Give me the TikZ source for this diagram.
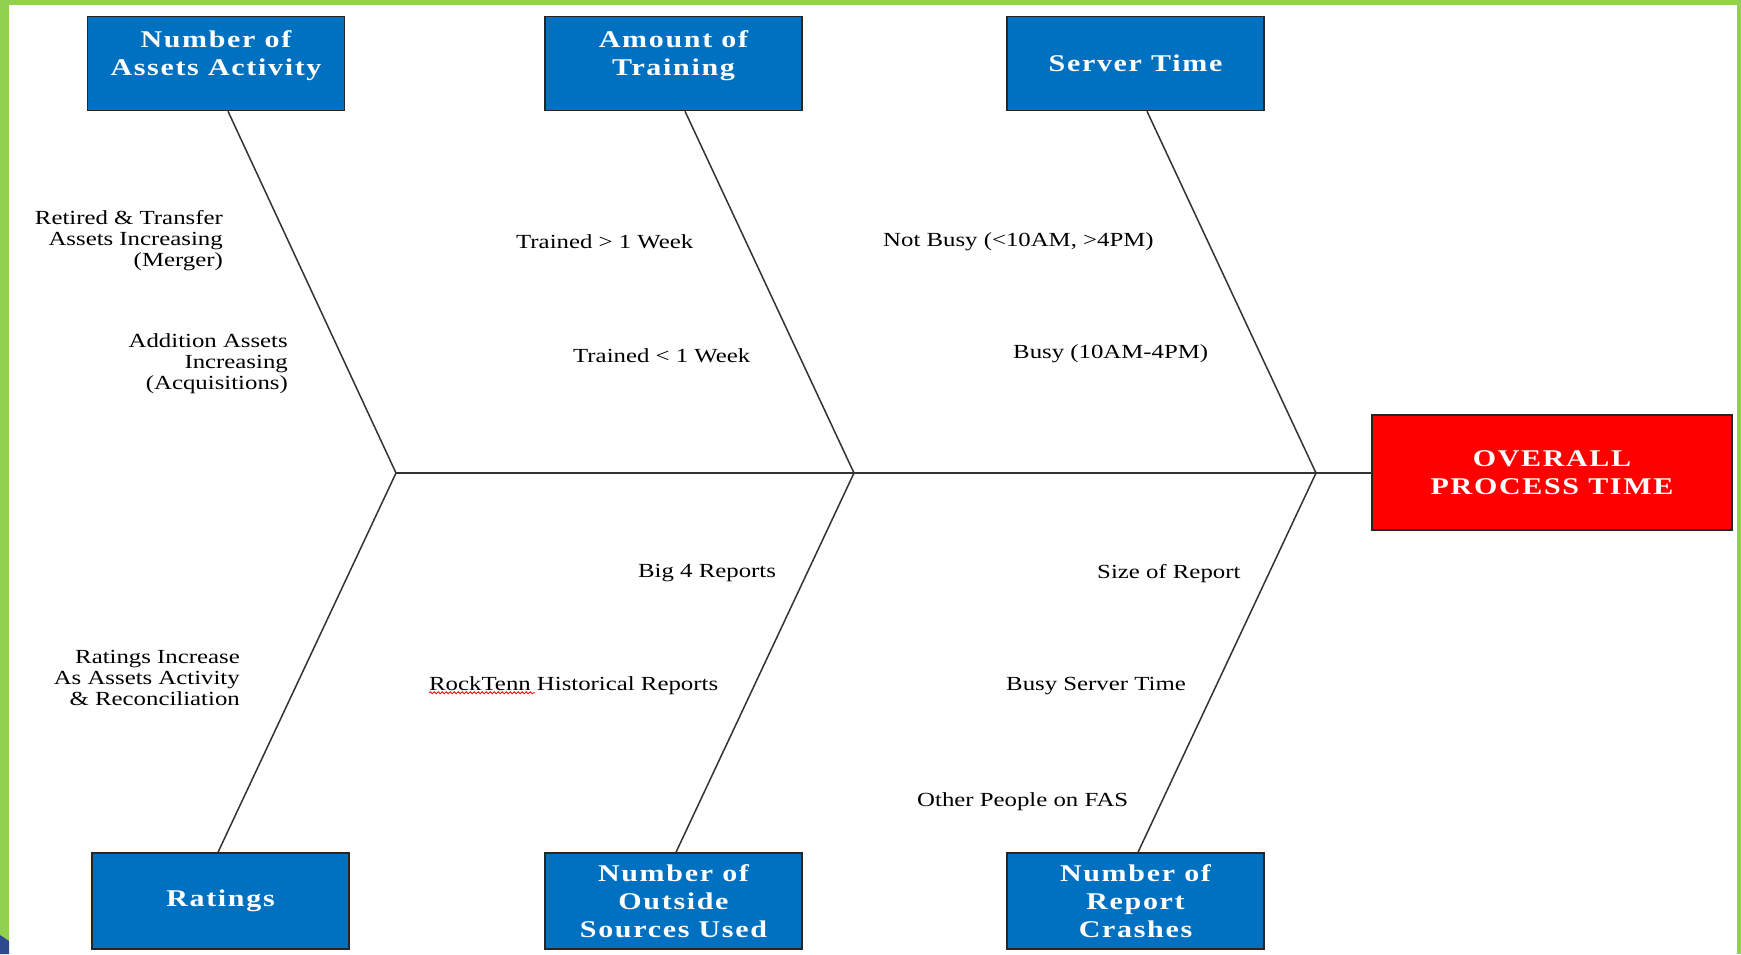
\documentclass[tikz,border=0pt]{standalone}
\usepackage{fontspec}
\setmainfont{Liberation Serif}[FakeStretch=1.24]
\newfontfamily\titlefont{Liberation Serif}[FakeStretch=1.25,LetterSpace=7]
\usetikzlibrary{decorations.pathmorphing}
\definecolor{frame}{HTML}{92D050}
\definecolor{boxblue}{HTML}{0070C0}
\definecolor{cornerblue}{HTML}{2E4A8F}
\definecolor{bone}{HTML}{333333}
\begin{document}
\begin{tikzpicture}[x=1pt,y=-1pt,
  cause/.style={draw=black!85,line width=1.5pt,fill=boxblue,text=white,
    minimum width=257pt,minimum height=94pt,align=center,inner sep=0pt,
    font=\titlefont\bfseries\fontsize{24}{28}\selectfont},
  effect/.style={cause,fill=red,minimum width=360pt,minimum height=115pt},
  boneline/.style={draw=bone,line width=1.5pt},
  lbl/.style={inner sep=0pt,anchor=west,font=\fontsize{20}{21}\selectfont},
  rlbl/.style={lbl,anchor=east,align=right}]
\useasboundingbox (0,0) rectangle (1741,954);
\fill[white] (0,0) rectangle (1741,954);
% slide frame
\fill[frame] (0,0) rectangle (9,954);
\fill[frame] (0,0) rectangle (1741,5);
\fill[frame] (1737,0) rectangle (1741,954);
\fill[cornerblue] (0,935) -- (9,941) -- (9,954) -- (0,954) -- cycle;

% category boxes (two-line titles sit a little above the middle)
\node[cause] (assets)   at (216,63.5)   {Number of\\Assets Activity\\[-7pt]\mbox{}};
\node[cause] (training) at (673.5,63.5) {Amount of\\Training\\[-7pt]\mbox{}};
\node[cause] (server)   at (1135.5,63.5){Server Time};
\node[cause,minimum height=96pt] (ratings) at (220.5,901) {Ratings};
\node[cause,minimum height=96pt] (sources) at (673.5,901) {Number of\\Outside\\Sources Used};
\node[cause,minimum height=96pt] (crashes) at (1135.5,901){Number of\\Report\\Crashes};
\node[effect] (overall) at (1552,472.5) {OVERALL\\PROCESS TIME};

% junctions on the spine
\coordinate (j1) at (396,473);
\coordinate (j2) at (854,473);
\coordinate (j3) at (1316,473);

% spine and bones
\draw[boneline] (j1) -- (overall.west |- j1);
\draw[boneline] ([xshift=12pt]assets.south) -- (j1);
\draw[boneline] ([xshift=11.5pt]training.south) -- (j2);
\draw[boneline] ([xshift=11.5pt]server.south) -- (j3);
\draw[boneline] ([xshift=-2.5pt]ratings.north) -- (j1);
\draw[boneline] ([xshift=2.5pt]sources.north) -- (j2);
\draw[boneline] ([xshift=2.5pt]crashes.north) -- (j3);

% causes
\node[rlbl] (merger) at (223,241) {Retired \& Transfer\\Assets Increasing\\(Merger)};
\node[rlbl] (acq) at (288,364) {Addition Assets\\Increasing\\(Acquisitions)};
\node[rlbl] (rinc) at (240,678) {Ratings Increase\\As Assets Activity\\\& Reconciliation};
\node[lbl] (tgt) at (516,241.5) {Trained > 1 Week};
\node[lbl] (tlt) at (573,355.5) {Trained < 1 Week};
\node[lbl] (notbusy) at (883,241.5) {Not Busy (<10AM, >4PM)};
\node[lbl] (busy) at (1013,353.5) {Busy (10AM-4PM)};
\node[lbl] (big4) at (638,573.5) {Big 4 Reports};
\node[lbl] (rock) at (429,685.5) {RockTenn Historical Reports};
\node[lbl] (size) at (1097,573.5) {Size of Report};
\node[lbl] (bst) at (1006,686.5) {Busy Server Time};
\node[lbl] (fas) at (917,801.5) {Other People on FAS};

% spelling mark under the company name
\draw[red,line width=0.8pt,decorate,decoration={snake,amplitude=1pt,segment length=4pt}]
  ([yshift=2pt]rock.south west) -- ([xshift=106pt,yshift=2pt]rock.south west);
\end{tikzpicture}
\end{document}
